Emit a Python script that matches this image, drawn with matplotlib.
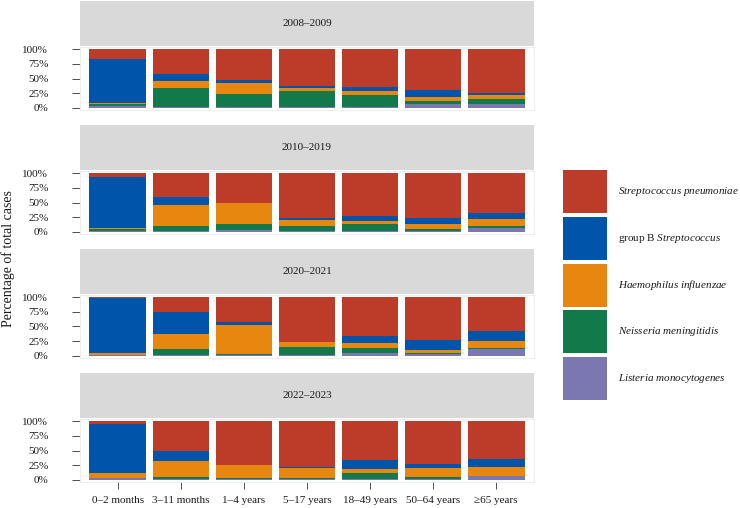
import matplotlib
matplotlib.use("Agg")
import matplotlib.pyplot as plt
from matplotlib.patches import Rectangle
import numpy as np

plt.rcParams['font.family'] = ['Liberation Serif', 'DejaVu Serif']
plt.rcParams['mathtext.fontset'] = 'custom'
plt.rcParams['mathtext.rm'] = 'Liberation Serif'
plt.rcParams['mathtext.it'] = 'Liberation Serif:italic'

age_groups = ["0\u20132 months", "3\u201311 months", "1\u20134 years", "5\u201317 years",
              "18\u201349 years", "50\u201364 years", "\u226565 years"]
periods = ["2008\u20132009", "2010\u20132019", "2020\u20132021", "2022\u20132023"]
pathogens = ["Listeria monocytogenes", "Neisseria meningitidis", "Haemophilus influenzae",
             "group B Streptococcus", "Streptococcus pneumoniae"]
colors = ["#7A77B1", "#12794B", "#E8870F", "#0055AA", "#BC3C29"]

# percentages per period, per pathogen (order of pathogens), per age group
listeria_2008 = [3, 1, 1, 1, 2, 6, 6]
nmen_2008 = [4, 33, 22, 27, 20, 6, 9]
hflu_2008 = [1, 12, 20, 6, 6, 7, 6]
gbs_2008 = [75, 12, 4, 3, 8, 11, 4]
spn_2008 = [17, 42, 53, 63, 64, 70, 75]

listeria_2010 = [2, 1, 3, 1, 2, 2, 6]
nmen_2010 = [2, 9, 11, 8, 11, 3, 4]
hflu_2010 = [3, 35, 35, 11, 6, 8, 11]
gbs_2010 = [86, 15, 1, 4, 8, 11, 11]
spn_2010 = [7, 40, 50, 76, 73, 76, 68]

listeria_2020 = [0.5, 1, 0.5, 0.5, 5, 3, 11.5]
nmen_2020 = [0, 10, 3, 15, 8, 2, 2.5]
hflu_2020 = [3.5, 26.5, 49, 7.5, 8, 5, 11]
gbs_2020 = [95, 37.5, 4.5, 0, 13, 17, 17]
spn_2020 = [1, 25, 43, 77, 66, 73, 58]

listeria_2022 = [3.5, 2, 0.5, 0.5, 2, 1, 6]
nmen_2022 = [0, 2.5, 2, 2.5, 9, 4, 1]
hflu_2022 = [8, 27.5, 23.5, 17, 7.5, 14.5, 15]
gbs_2022 = [83.5, 18, 0, 1, 15, 7.5, 14]
spn_2022 = [5, 50, 74, 79, 66.5, 73, 64]

period_data = [
    [listeria_2008, nmen_2008, hflu_2008, gbs_2008, spn_2008],
    [listeria_2010, nmen_2010, hflu_2010, gbs_2010, spn_2010],
    [listeria_2020, nmen_2020, hflu_2020, gbs_2020, spn_2020],
    [listeria_2022, nmen_2022, hflu_2022, gbs_2022, spn_2022],
]

W, H = 740, 508
fig = plt.figure(figsize=(W / 100, H / 100), dpi=100)


def box(x0, y0, x1, y1):
    return [x0 / W, 1 - y1 / H, (x1 - x0) / W, (y1 - y0) / H]


x = np.arange(len(age_groups))
for i, (period, series) in enumerate(zip(periods, period_data)):
    off = 124 * i
    sax = fig.add_axes(box(80, 1 + off, 534, 46 + off))
    sax.set_facecolor("#D9D9D9")
    for s in sax.spines.values():
        s.set_visible(False)
    sax.set_xticks([])
    sax.set_yticks([])
    sax.text(0.5, 0.5, period, ha="center", va="center", fontsize=8, color="#1a1a1a",
             transform=sax.transAxes)

    ax = fig.add_axes(box(80, 47 + off, 534, 110 + off))
    arr = np.array(series, dtype=float)
    arr = arr / arr.sum(axis=0)
    bottom = np.zeros(len(age_groups))
    for vals, c in zip(arr, colors):
        ax.bar(x, vals, bottom=bottom, width=0.9, color=c, linewidth=0)
        bottom += vals
    ax.set_xlim(-0.6, 6.6)
    ax.set_ylim(-0.039, 1.039)
    ax.set_yticks([0, 0.25, 0.5, 0.75, 1.0])
    ax.set_yticklabels(["0%", "25%", "50%", "75%", "100%"])
    ax.tick_params(axis="y", length=5.8, width=0.6, color="#333333", labelsize=8,
                   labelcolor="#1a1a1a", pad=17)
    for s in ax.spines.values():
        s.set_color("#EBEBEB")
        s.set_linewidth(0.6)
    if i == 3:
        ax.set_xticks(x)
        ax.set_xticklabels(age_groups)
        ax.tick_params(axis="x", length=5, width=0.6, color="#333333", labelsize=8,
                       labelcolor="#1a1a1a", pad=5)
    else:
        ax.set_xticks([])

# overlay for y label and legend
ov = fig.add_axes([0, 0, 1, 1])
ov.set_xlim(0, W)
ov.set_ylim(H, 0)
ov.axis("off")
ov.text(8.5, 259, "Percentage of total cases", rotation=90, ha="center", va="center",
        fontsize=10, color="#1a1a1a")

legend_order = list(range(len(pathogens)))[::-1]
legend_labels = {
    "Streptococcus pneumoniae": r"$\it{Streptococcus\ pneumoniae}$",
    "group B Streptococcus": r"group B $\it{Streptococcus}$",
    "Haemophilus influenzae": r"$\it{Haemophilus\ influenzae}$",
    "Neisseria meningitidis": r"$\it{Neisseria\ meningitidis}$",
    "Listeria monocytogenes": r"$\it{Listeria\ monocytogenes}$",
}
for k, idx in enumerate(legend_order):
    y0 = 170 + 46.75 * k
    ov.add_patch(Rectangle((563, y0), 44, 43, facecolor=colors[idx], edgecolor="none"))
    ov.text(618, y0 + 21.5, legend_labels[pathogens[idx]], ha="left", va="center",
            fontsize=8, color="#1a1a1a")

fig.savefig("out.png", dpi=100)
